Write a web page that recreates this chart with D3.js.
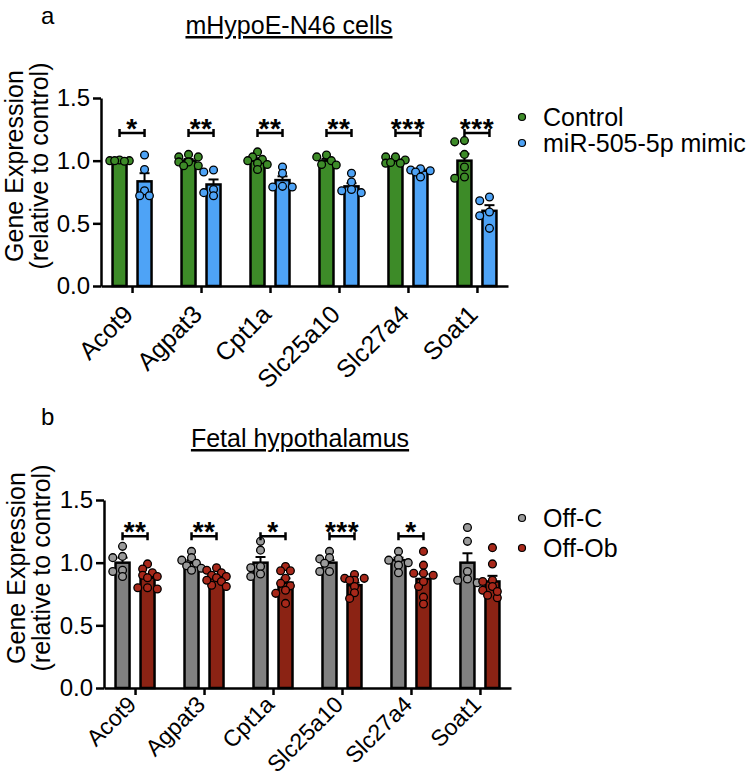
<!DOCTYPE html>
<html>
<head>
<meta charset="utf-8">
<script src="https://cdn.jsdelivr.net/npm/d3@7"></script>
<style>
body { margin: 0; background: #fff; }
text { font-family: "Liberation Sans", Arial, sans-serif; fill: #000; }
</style>
</head>
<body>
<svg id="chart" width="750" height="782"></svg>
<script>
var genes = ["Acot9", "Agpat3", "Cpt1a", "Slc25a10", "Slc27a4", "Soat1"];
var yTicks = [0, 0.5, 1.0, 1.5];

// panel a : mHypoE-N46 cells
var controlMean = [1.0, 1.0, 1.0, 1.0, 1.0, 1.0];
var controlSem = [0.003, 0.013, 0.02, 0.015, 0.01, 0.055];
var mimicMean = [0.835, 0.81, 0.845, 0.795, 0.92, 0.60];
var mimicSem = [0.065, 0.04, 0.03, 0.025, 0.01, 0.045];
var controlPoints = [
    [1.0, 1.0, 1.005, 0.995, 1.0],
    [1.05, 1.03, 1.03, 0.99, 0.99, 0.96, 0.96],
    [1.07, 1.03, 1.01, 1.0, 0.98, 0.97, 0.93],
    [1.045, 1.03, 1.0, 0.97, 0.965],
    [1.03, 1.03, 1.005, 0.98, 0.98, 0.985],
    [1.15, 1.16, 1.05, 0.95, 0.86, 0.87]
];
var mimicPoints = [
    [1.045, 0.93, 0.76, 0.72, 0.72],
    [0.91, 0.925, 0.77, 0.745, 0.72],
    [0.95, 0.90, 0.79, 0.79, 0.795],
    [0.90, 0.83, 0.77, 0.76, 0.745],
    [0.935, 0.925, 0.92, 0.91, 0.87],
    [0.71, 0.68, 0.59, 0.56, 0.46]
];
var starsA = ["*", "**", "**", "**", "***", "***"];

// panel b : fetal hypothalamus
var offCMean = [1.0, 1.0, 1.0, 1.0, 1.02, 1.0];
var offCSem = [0.04, 0.02, 0.045, 0.02, 0.02, 0.075];
var offObMean = [0.88, 0.885, 0.84, 0.82, 0.87, 0.85];
var offObSem = [0.025, 0.015, 0.035, 0.02, 0.04, 0.045];
var offCPoints = [
    [1.13, 1.05, 1.04, 0.94, 0.89, 0.93],
    [1.09, 1.04, 1.02, 0.995, 0.975, 0.94, 0.955],
    [1.17, 1.10, 0.97, 0.96, 0.89, 0.91],
    [1.09, 1.04, 1.03, 0.995, 0.93, 0.93],
    [1.09, 1.03, 1.02, 1.0, 0.98, 0.92],
    [1.28, 1.17, 0.93, 0.87, 0.84, 0.86]
];
var offObPoints = [
    [0.99, 0.95, 0.92, 0.90, 0.89, 0.88, 0.80, 0.79, 0.80],
    [0.96, 0.94, 0.92, 0.90, 0.89, 0.88, 0.85, 0.82, 0.81, 0.86],
    [0.97, 0.935, 0.935, 0.875, 0.835, 0.815, 0.78, 0.755, 0.675],
    [0.905, 0.875, 0.875, 0.86, 0.86, 0.81, 0.76, 0.715],
    [1.09, 0.98, 0.915, 0.90, 0.915, 0.81, 0.725, 0.67, 0.85],
    [1.12, 0.99, 0.86, 0.85, 0.81, 0.78, 0.74, 0.72, 0.77]
];
var starsB = ["**", "**", "*", "***", "*", ""];

var svg = d3.select("#chart");
svg.append("rect").attr("width", 750).attr("height", 782).attr("fill", "#fff");

// spread dots sideways when they would overlap
function swarm(values, y, r) {
    var order = values.map(function(v, i) { return i; })
        .sort(function(a, b) { return values[b] - values[a]; });
    var placed = [], out = [];
    var cands = [0, -1, 1, -2, 2];
    var step = r * 1.25;
    order.forEach(function(i) {
        var py = y(values[i]);
        var best = 0, bestOv = Infinity;
        for (var k = 0; k < cands.length; k++) {
            var px = cands[k] * step, ov = 0;
            placed.forEach(function(p) {
                var d = Math.hypot(p.x - px, p.y - py);
                if (d < r * 1.6) ov += r * 1.6 - d;
            });
            if (ov === 0) { best = px; break; }
            if (ov < bestOv) { bestOv = ov; best = px; }
        }
        placed.push({x: best, y: py});
        out[i] = best;
    });
    return out;
}

function drawPanel(p) {
    var g = svg.append("g");

    var x = d3.scalePoint().domain(genes).range([p.x0, p.x1]).padding(0.45);
    var y = d3.scaleLinear().domain([0, 1.5]).range([p.yBottom, p.yTop]);
    var off = 12.5, bw = 14, r = 3.9;

    g.append("text").attr("x", p.letterX).attr("y", p.letterY)
        .style("font-size", "24px").text(p.letter);

    g.append("text").attr("x", p.titleX).attr("y", p.titleY)
        .attr("text-anchor", "middle")
        .style("font-size", "25px")
        .style("text-decoration", "underline")
        .text(p.title);

    // y title
    var yt = g.append("g").attr("transform", "translate(0," + p.yTitleMid + ")");
    yt.append("text").attr("transform", "translate(" + p.yTitleX1 + ",0) rotate(-90)")
        .attr("text-anchor", "middle").style("font-size", "25px").text("Gene Expression");
    yt.append("text").attr("transform", "translate(" + p.yTitleX2 + ",0) rotate(-90)")
        .attr("text-anchor", "middle").style("font-size", "25px").text("(relative to control)");

    var groups = [
        {mean: p.meanA, sem: p.semA, pts: p.ptsA, bar: p.barA, dot: p.dotA, dx: -off},
        {mean: p.meanB, sem: p.semB, pts: p.ptsB, bar: p.barB, dot: p.dotB, dx: off}
    ];

    groups.forEach(function(s) {
        g.selectAll(null).data(genes).enter().append("rect")
            .attr("x", function(d) { return x(d) + s.dx - bw / 2; })
            .attr("y", function(d, i) { return y(s.mean[i]); })
            .attr("width", bw)
            .attr("height", function(d, i) { return y(0) - y(s.mean[i]); })
            .attr("fill", s.bar).attr("stroke", "#000").attr("stroke-width", 2.5);
    });

    groups.forEach(function(s) {
        var eb = g.selectAll(null).data(genes).enter().append("g");
        eb.append("line")
            .attr("x1", function(d) { return x(d) + s.dx; })
            .attr("x2", function(d) { return x(d) + s.dx; })
            .attr("y1", function(d, i) { return y(s.mean[i]); })
            .attr("y2", function(d, i) { return y(s.mean[i] + s.sem[i]); })
            .attr("stroke", "#000").attr("stroke-width", 2);
        eb.append("line")
            .attr("x1", function(d) { return x(d) + s.dx - 5; })
            .attr("x2", function(d) { return x(d) + s.dx + 5; })
            .attr("y1", function(d, i) { return y(s.mean[i] + s.sem[i]); })
            .attr("y2", function(d, i) { return y(s.mean[i] + s.sem[i]); })
            .attr("stroke", "#000").attr("stroke-width", 2);
    });

    groups.forEach(function(s) {
        genes.forEach(function(gn, i) {
            var jit = swarm(s.pts[i], y, r);
            g.selectAll(null).data(s.pts[i]).enter().append("circle")
                .attr("cx", function(v, k) { return x(gn) + s.dx + jit[k]; })
                .attr("cy", function(v) { return y(v); })
                .attr("r", r)
                .attr("fill", s.dot).attr("stroke", "#000").attr("stroke-width", 1.3);
        });
    });

    // significance brackets
    genes.forEach(function(gn, i) {
        if (!p.stars[i]) return;
        var by = y(p.bracket);
        var xa = x(gn) - off, xb = x(gn) + off;
        g.append("path")
            .attr("d", "M" + xa + "," + by + "H" + xb +
                "M" + xa + "," + (by - 4) + "V" + (by + 4) +
                "M" + xb + "," + (by - 4) + "V" + (by + 4))
            .attr("stroke", "#000").attr("stroke-width", 2.5).attr("fill", "none");
        g.append("text").attr("x", x(gn)).attr("y", by + 5)
            .attr("text-anchor", "middle")
            .style("font-size", "28px").style("font-weight", "bold")
            .style("letter-spacing", "0.5px")
            .text(p.stars[i]);
    });

    var yAxis = d3.axisLeft(y).tickValues(yTicks).tickFormat(d3.format(".1f"))
        .tickSize(8).tickSizeOuter(0).tickPadding(3);
    var ya = g.append("g").attr("transform", "translate(" + p.x0 + ",0)").call(yAxis);
    ya.selectAll("path,line").attr("stroke", "#000").attr("stroke-width", 2.5);
    ya.selectAll("text").style("font-size", "24px").style("font-family", "Liberation Sans, Arial, sans-serif");

    var xAxis = d3.axisBottom(x).tickSize(7).tickSizeOuter(0).tickPadding(0);
    var xa = g.append("g").attr("transform", "translate(0," + p.yBottom + ")").call(xAxis);
    xa.selectAll("path,line").attr("stroke", "#000").attr("stroke-width", 2.5);
    xa.selectAll("text")
        .attr("y", 0).attr("dy", 0)
        .attr("text-anchor", "end")
        .attr("transform", "translate(2," + p.labelDrop + ") rotate(-45)")
        .style("font-size", p.labelSize + "px").style("font-family", "Liberation Sans, Arial, sans-serif");

    // legend
    p.legend.forEach(function(lab, i) {
        var ly = p.legendY + i * p.legendGap;
        g.append("circle").attr("cx", p.legendX).attr("cy", ly).attr("r", 3.5)
            .attr("fill", i === 0 ? p.dotA : p.dotB).attr("stroke", "#000").attr("stroke-width", 1.2);
        g.append("text").attr("x", p.legendX + 21).attr("y", ly + 9)
            .style("font-size", "25px").text(lab);
    });
}

drawPanel({
    letter: "a", letterX: 41, letterY: 24,
    title: "mHypoE-N46 cells", titleX: 289, titleY: 34,
    x0: 101, x1: 508, yTop: 98, yBottom: 286,
    yTitleMid: 166, yTitleX1: 23, yTitleX2: 48,
    labelDrop: 30, labelSize: 25,
    meanA: controlMean, semA: controlSem, ptsA: controlPoints,
    meanB: mimicMean, semB: mimicSem, ptsB: mimicPoints,
    barA: "#3d8b28", dotA: "#3d8b28", barB: "#4ea3f6", dotB: "#4ea3f6",
    stars: starsA, bracket: 1.22,
    legend: ["Control", "miR-505-5p mimic"], legendX: 522, legendY: 117, legendGap: 26
});

drawPanel({
    letter: "b", letterX: 41, letterY: 425,
    title: "Fetal hypothalamus", titleX: 300, titleY: 447,
    x0: 104, x1: 511, yTop: 500, yBottom: 688,
    yTitleMid: 568, yTitleX1: 25, yTitleX2: 50,
    labelDrop: 18, labelSize: 23,
    meanA: offCMean, semA: offCSem, ptsA: offCPoints,
    meanB: offObMean, semB: offObSem, ptsB: offObPoints,
    barA: "#808080", dotA: "#9a9a9a", barB: "#8b2314", dotB: "#a8281a",
    stars: starsB, bracket: 1.21,
    legend: ["Off-C", "Off-Ob"], legendX: 522, legendY: 518, legendGap: 30
});
</script>
</body>
</html>
